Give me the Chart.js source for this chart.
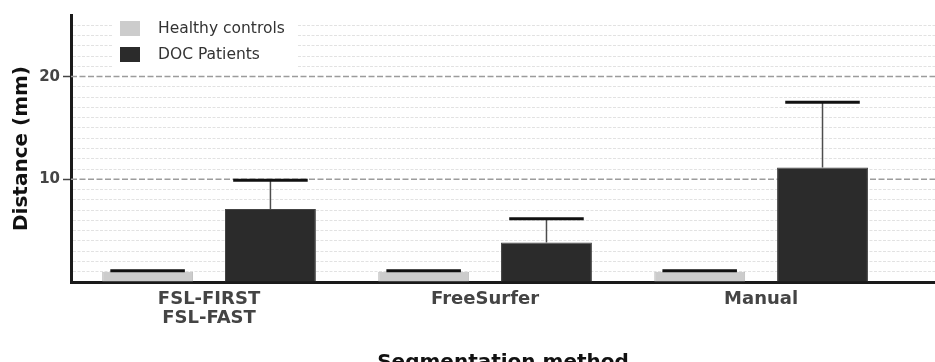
<!DOCTYPE html>
<html>
<head>
<meta charset="utf-8">
<script src="https://cdn.jsdelivr.net/npm/chart.js@4.4.0/dist/chart.umd.min.js"></script>
<style>
  html, body { margin: 0; padding: 0; background: #fff; overflow: hidden; }
  #wrap { position: relative; width: 935px; height: 380px; }
</style>
</head>
<body>
<div id="wrap"><canvas id="chart"></canvas></div>
<script>
// data (mm)
const categories = ['FSL-FIRST\nFSL-FAST', 'FreeSurfer', 'Manual'];
const healthyMeans = [1.0, 1.0, 1.0];
const healthyErrors = [0.1, 0.1, 0.1];
const docMeans = [7.1, 3.85, 11.15];
const docErrors = [2.8, 2.3, 6.35];
const yTickLabels = [10, 20];

Chart.defaults.font.family = "'DejaVu Sans', sans-serif";

// dashed major grid lines at the labelled ticks
const majorGrid = {
  id: 'majorGrid',
  beforeDatasetsDraw(chart) {
    const { ctx, chartArea, scales: { y } } = chart;
    ctx.save();
    ctx.strokeStyle = '#9c9c9c';
    ctx.lineWidth = 1.5;
    ctx.setLineDash([6, 2.5]);
    yTickLabels.forEach(v => {
      const py = y.getPixelForValue(v);
      ctx.beginPath();
      ctx.moveTo(chartArea.left, py);
      ctx.lineTo(chartArea.right, py);
      ctx.stroke();
    });
    ctx.restore();
  }
};

// upper error bars
const errorBars = {
  id: 'errorBars',
  afterDatasetsDraw(chart) {
    const { ctx, scales: { y } } = chart;
    chart.data.datasets.forEach((ds, di) => {
      const meta = chart.getDatasetMeta(di);
      meta.data.forEach((bar, i) => {
        const top = y.getPixelForValue(ds.data[i].y + ds.errors[i]);
        const half = bar.width * 0.41;
        ctx.save();
        ctx.strokeStyle = '#4d4d4d';
        ctx.lineWidth = 1.5;
        ctx.beginPath();
        ctx.moveTo(bar.x, bar.y);
        ctx.lineTo(bar.x, top);
        ctx.stroke();
        ctx.strokeStyle = '#111';
        ctx.lineWidth = 3;
        ctx.beginPath();
        ctx.moveTo(bar.x - half, top);
        ctx.lineTo(bar.x + half, top);
        ctx.stroke();
        ctx.restore();
      });
    });
  }
};

// legend inside the plot, top left
const insideLegend = {
  id: 'insideLegend',
  afterDraw(chart) {
    const { ctx, chartArea } = chart;
    const x0 = chartArea.left + 42;
    const y0 = chartArea.top;
    ctx.save();
    ctx.fillStyle = '#fff';
    ctx.fillRect(x0, y0 + 1, 184, 55);
    chart.data.datasets.forEach((ds, i) => {
      const cy = y0 + 13.5 + i * 26;
      ctx.fillStyle = ds.backgroundColor;
      ctx.fillRect(x0 + 7, cy - 7.5, 20, 15);
      ctx.fillStyle = '#333';
      ctx.font = "15.5px 'DejaVu Sans', sans-serif";
      ctx.textBaseline = 'middle';
      ctx.fillText(ds.label, x0 + 45, cy);
    });
    ctx.restore();
  }
};

const ctx = document.getElementById('chart').getContext('2d');
const chart = new Chart(ctx, {
  type: 'bar',
  data: {
    datasets: [{
      label: 'Healthy controls',
      data: healthyMeans.map((v, i) => ({ x: i, y: v })),
      errors: healthyErrors,
      backgroundColor: '#cccccc',
      borderColor: '#bfbfbf',
      borderWidth: 1
    }, {
      label: 'DOC Patients',
      data: docMeans.map((v, i) => ({ x: i, y: v })),
      errors: docErrors,
      backgroundColor: '#2b2b2b',
      borderColor: '#444',
      borderWidth: 1
    }]
  },
  options: {
    responsive: true,
    maintainAspectRatio: false,
    animation: false,
    categoryPercentage: 0.89,
    barPercentage: 0.74,
    layout: { padding: { top: 15, left: 0, right: 0, bottom: 0 } },
    plugins: { legend: { display: false }, tooltip: { enabled: false } },
    scales: {
      x: {
        type: 'linear',
        offset: false,
        min: -0.5,
        max: 2.63,
        afterBuildTicks(s) { s.ticks = categories.map((c, i) => ({ value: i })); },
        afterFit(s) { s.height = 98; },
        ticks: {
          autoSkip: false,
          maxRotation: 0,
          padding: 7,
          color: '#444',
          font: { size: 18, weight: 'bold', lineHeight: 1.1 },
          callback: v => categories[v] ? categories[v].split('\n') : ''
        },
        grid: { display: false, drawTicks: false },
        border: { color: '#1a1a1a', width: 3 },
        title: {
          display: true,
          text: 'Segmentation method',
          color: '#111',
          font: { size: 20, weight: 'bold' },
          padding: { top: 0, bottom: 5 }
        }
      },
      y: {
        min: 0,
        max: 26,
        afterFit(s) { s.width = 71; },
        ticks: {
          stepSize: 1,
          autoSkip: false,
          padding: 3,
          color: '#444',
          font: { size: 15, weight: 'bold' },
          callback: v => yTickLabels.includes(v) ? String(v) : ''
        },
        grid: {
          color: c => (yTickLabels.includes(c.tick.value) || c.tick.value === 0 || c.tick.value >= 26) ? 'rgba(0,0,0,0)' : '#e2e2e2',
          lineWidth: 1,
          tickLength: 8,
          tickWidth: 1.5,
          tickColor: c => yTickLabels.includes(c.tick.value) ? '#444' : 'rgba(0,0,0,0)'
        },
        border: { color: '#1a1a1a', width: 3, dash: [3, 1.5] },
        title: {
          display: true,
          text: 'Distance (mm)',
          color: '#111',
          font: { size: 20, weight: 'bold' },
          padding: { top: 10, bottom: 0 }
        }
      }
    }
  },
  plugins: [majorGrid, errorBars, insideLegend]
});
</script>
</body>
</html>
